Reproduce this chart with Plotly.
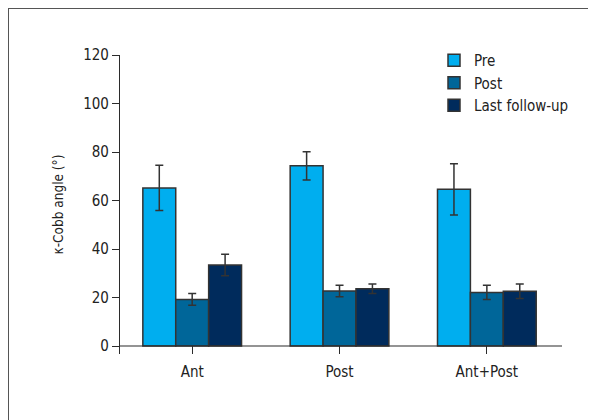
import plotly.graph_objects as go

categories = ["Ant", "Post", "Ant+Post"]
series_names = ["Pre", "Post", "Last follow-up"]
pre_vals = [65.2, 74.3, 64.6]
pre_err = [9.3, 5.8, 10.6]
post_vals = [19.2, 22.7, 22.1]
post_err = [2.4, 2.4, 2.9]
last_vals = [33.4, 23.6, 22.6]
last_err = [4.4, 2.0, 3.0]
y_ticks = [0, 20, 40, 60, 80, 100, 120]
colors = ["#00AEEF", "#006699", "#002B5C"]

FONT = "DejaVu Sans Condensed, Liberation Sans Narrow, Roboto, sans-serif"
TXT = "#222222"
AX = "#2b2b2b"

fig = go.Figure()
for name, vals, errs, col in zip(series_names, [pre_vals, post_vals, last_vals],
                                 [pre_err, post_err, last_err], colors):
    fig.add_trace(go.Bar(
        x=categories, y=vals, name=name,
        marker=dict(color=col, line=dict(color="#333333", width=1.5)),
        error_y=dict(type="data", array=errs, visible=True, color="#333333",
                     thickness=1.5, width=4),
    ))

# page has an 8px body margin: figure coords = page coords - 8
OFF = 8
W, H = 596 - OFF, 420 - OFF
L, R, T, B = 120 - OFF, 34, 55 - OFF, 66
pw, ph = W - L - R, H - T - B

def px_x(page_px):
    return (page_px - OFF - L) / pw

def px_y(page_px):
    return (H - B - (page_px - OFF)) / ph

fig.update_layout(
    width=W, height=H,
    margin=dict(l=L, r=R, t=T, b=B, pad=0),
    paper_bgcolor="white", plot_bgcolor="white",
    barmode="group", bargap=0.33, bargroupgap=0,
    font=dict(family=FONT, size=15, color=TXT),
    showlegend=True,
    legend=dict(x=px_x(434), y=px_y(44), xanchor="left", yanchor="top",
                font=dict(family=FONT, size=15, color=TXT),
                bgcolor="rgba(0,0,0,0)", tracegroupgap=0, itemwidth=30),
    xaxis=dict(range=[-0.49, 2.51], showline=False, showgrid=False, zeroline=False,
               ticks="inside", ticklen=8, tickwidth=1.2, tickcolor=AX,
               tickfont=dict(family=FONT, size=15, color=TXT),
               ticklabelstandoff=7),
    yaxis=dict(range=[-3.3, 120], tickvals=y_ticks, showline=True, linecolor=AX,
               linewidth=1.2, showgrid=False, zeroline=False,
               ticks="outside", ticklen=7, tickwidth=1.2, tickcolor=AX,
               tickfont=dict(family=FONT, size=15, color=TXT),
               title=dict(text="κ-Cobb angle (°)", standoff=16,
                          font=dict(family=FONT, size=13.5, color=TXT))),
    shapes=[
        # x axis baseline at y = 0
        dict(type="line", xref="paper", yref="y", x0=0, x1=1, y0=0, y1=0,
             line=dict(color=AX, width=1.2), layer="above"),
        # outer frame (top and left edges)
        dict(type="line", xref="paper", yref="paper", x0=px_x(8), x1=px_x(600),
             y0=px_y(8.5), y1=px_y(8.5), line=dict(color="#555555", width=1)),
        dict(type="line", xref="paper", yref="paper", x0=px_x(8.5), x1=px_x(8.5),
             y0=px_y(8), y1=px_y(425), line=dict(color="#555555", width=1)),
    ],
)

fig.write_html("out.html")
